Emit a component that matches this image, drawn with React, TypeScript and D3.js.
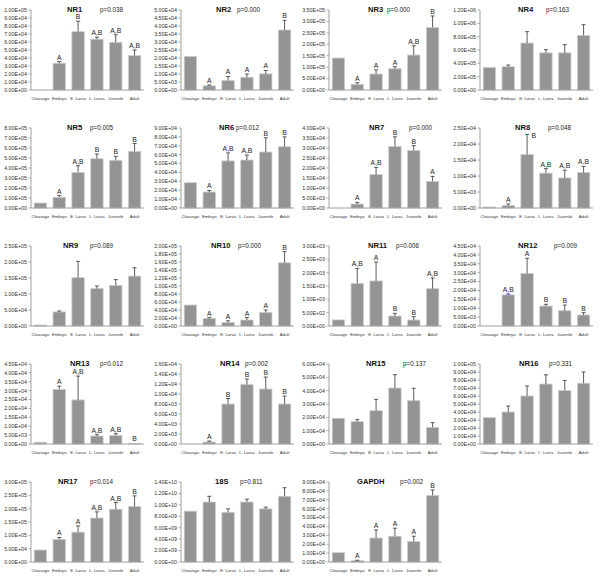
import React from "react";
import * as d3 from "d3";

const categories = ["Cleavage", "Embryo", "E. Larva", "L. Larva", "Juvenile", "Adult"];

const nr1Means = [0, 3.35e4, 7.3e4, 6.35e4, 5.96e4, 4.3e4];
const nr1Err = [null, 3.55e4, 8.6e4, 6.6e4, 6.9e4, 5.0e4];
const nr1Letters = ["", "A", "B", "A,B", "A,B", "A,B"];

const nr2Means = [2.1e4, 2.6e3, 6.0e3, 8.0e3, 1.01e4, 3.75e4];
const nr2Err = [null, 3.1e3, 8.5e3, 1.0e4, 1.22e4, 4.35e4];
const nr2Letters = ["", "A", "A", "A", "A", "B"];

const nr3Means = [1.4e5, 2.5e4, 7.0e4, 9.3e4, 1.53e5, 2.74e5];
const nr3Err = [null, 3.2e4, 8.8e4, 1.02e5, 1.93e5, 3.24e5];
const nr3Letters = ["", "A", "A", "A", "A,B", "B"];

const nr4Means = [3.4e5, 3.5e5, 7.05e5, 5.57e5, 5.57e5, 8.2e5];
const nr4Err = [null, 3.75e5, 8.75e5, 6.05e5, 6.8e5, 9.8e5];
const nr4Letters = ["", "", "", "", "", ""];

const nr5Means = [5e4, 1.07e5, 3.56e5, 4.93e5, 4.77e5, 5.67e5];
const nr5Err = [null, 1.25e5, 4.22e5, 5.4e5, 5.17e5, 6.45e5];
const nr5Letters = ["", "A", "A,B", "B", "B", "B"];

const nr6Means = [2.85e4, 1.8e4, 5.3e4, 5.4e4, 6.3e4, 6.9e4];
const nr6Err = [null, 1.97e4, 6.2e4, 5.95e4, 7.9e4, 8.0e4];
const nr6Letters = ["", "A", "A,B", "A,B", "B", "B"];

const nr7Means = [0, 2.0e3, 1.67e4, 3.08e4, 2.88e4, 1.33e4];
const nr7Err = [null, 2.8e3, 2.03e4, 3.56e4, 3.12e4, 1.58e4];
const nr7Letters = ["", "A", "A,B", "B", "B", "A"];

const nr8Means = [3e2, 8e2, 1.67e4, 1.09e4, 9.4e3, 1.11e4];
const nr8Err = [null, 1.25e3, 2.3e4, 1.23e4, 1.18e4, 1.3e4];
const nr8Letters = ["", "A", "B", "A,B", "A,B", "A,B"];

const nr9Means = [3e3, 4.4e4, 1.51e5, 1.17e5, 1.27e5, 1.56e5];
const nr9Err = [null, 4.7e4, 2.02e5, 1.25e5, 1.45e5, 1.82e5];
const nr9Letters = ["", "", "", "", "", ""];

const nr10Means = [5.25e4, 1.9e4, 9e3, 1.5e4, 3.4e4, 1.58e5];
const nr10Err = [null, 2.1e4, 1.3e4, 2.1e4, 4.0e4, 1.86e5];
const nr10Letters = ["", "A", "A", "A", "A", "B"];

const nr11Means = [2.3e2, 1.6e3, 1.69e3, 3.75e2, 2.25e2, 1.4e3];
const nr11Err = [null, 2.16e3, 2.4e3, 4.75e2, 3.5e2, 1.8e3];
const nr11Letters = ["", "A,B", "A", "B", "B", "A,B"];

const nr12Means = [0, 1.75e4, 2.96e4, 1.12e4, 8.6e3, 6.2e3];
const nr12Err = [null, 1.8e4, 3.81e4, 1.22e4, 1.18e4, 7.5e3];
const nr12Letters = ["", "A,B", "A", "B", "B", "B"];

const nr13Means = [1e3, 3.07e4, 2.48e4, 4.5e3, 4.8e3, 3e2];
const nr13Err = [null, 3.25e4, 3.82e4, 5.2e3, 5.8e3, null];
const nr13Letters = ["", "A", "A,B", "A,B", "A,B", "B"];

const nr14Means = [0, 4e2, 8e3, 1.19e4, 1.1e4, 8e3];
const nr14Err = [null, 6e2, 9.1e3, 1.3e4, 1.34e4, 9.6e3];
const nr14Letters = ["", "A", "B", "B", "B", "B"];

const nr15Means = [1.93e4, 1.68e4, 2.5e4, 4.2e4, 3.25e4, 1.25e4];
const nr15Err = [null, 1.83e4, 3.35e4, 5.2e4, 4.18e4, 1.6e4];
const nr15Letters = ["", "", "", "", "", ""];

const nr16Means = [3.3e4, 4.0e4, 6.0e4, 7.5e4, 6.7e4, 7.6e4];
const nr16Err = [null, 4.75e4, 7.25e4, 8.65e4, 7.95e4, 9.0e4];
const nr16Letters = ["", "", "", "", "", ""];

const nr17Means = [4.5e4, 8.5e4, 1.12e5, 1.65e5, 1.98e5, 2.08e5];
const nr17Err = [null, 9.2e4, 1.35e5, 1.88e5, 2.23e5, 2.48e5];
const nr17Letters = ["", "A", "A", "A,B", "A,B", "B"];

const s18Means = [8.9e9, 1.05e10, 8.7e9, 1.05e10, 9.3e9, 1.15e10];
const s18Err = [null, 1.15e10, 9.3e9, 1.1e10, 9.6e9, 1.3e10];
const s18Letters = ["", "", "", "", "", ""];

const gapdhMeans = [1.05e4, 1.5e3, 2.7e4, 2.9e4, 2.3e4, 7.5e4];
const gapdhErr = [null, 2e3, 3.6e4, 3.8e4, 2.9e4, 8.1e4];
const gapdhLetters = ["", "A", "A", "A", "A", "B"];

const geneNames = ["NR1", "NR2", "NR3", "NR4", "NR5", "NR6", "NR7", "NR8", "NR9", "NR10", "NR11", "NR12", "NR13", "NR14", "NR15", "NR16", "NR17", "18S", "GAPDH"];
const pValues = ["0.038", "0.000", "0.000", "0.163", "0.005", "0.012", "0.000", "0.048", "0.089", "0.000", "0.006", "0.009", "0.012", "0.002", "0.137", "0.331", "0.014", "0.811", "0.002"];
const axisMax = [1e5, 5e4, 3.5e5, 1.2e6, 8e5, 9e4, 4e4, 2.5e4, 2.5e5, 2e5, 3e3, 4.5e4, 4.5e4, 1.6e4, 6e4, 1e5, 3e5, 1.4e10, 9e4];
const axisStep = [1e4, 5e3, 5e4, 2e5, 1e5, 1e4, 5e3, 5e3, 5e4, 2e4, 5e2, 5e3, 5e3, 2e3, 1e4, 1e4, 5e4, 2e9, 1e4];
const allMeans = [nr1Means, nr2Means, nr3Means, nr4Means, nr5Means, nr6Means, nr7Means, nr8Means, nr9Means, nr10Means, nr11Means, nr12Means, nr13Means, nr14Means, nr15Means, nr16Means, nr17Means, s18Means, gapdhMeans];
const allErr = [nr1Err, nr2Err, nr3Err, nr4Err, nr5Err, nr6Err, nr7Err, nr8Err, nr9Err, nr10Err, nr11Err, nr12Err, nr13Err, nr14Err, nr15Err, nr16Err, nr17Err, s18Err, gapdhErr];
const allLetters = [nr1Letters, nr2Letters, nr3Letters, nr4Letters, nr5Letters, nr6Letters, nr7Letters, nr8Letters, nr9Letters, nr10Letters, nr11Letters, nr12Letters, nr13Letters, nr14Letters, nr15Letters, nr16Letters, nr17Letters, s18Letters, gapdhLetters];

// layout (not data)
const colX = [31, 181, 329, 480];
const rowY = [10, 128, 246, 364, 482];
const plotW = 113;
const plotH = 80;
const titleDx = [36, 35, 39, 38, 36, 38, 40, 35, 32, 30, 39, 38, 39, 39, 37, 39, 27, 34, 28];
const pDx = [69, 56, 58, 66, 59, 55, 80, 68, 59, 57, 67, 74, 69, 64, 74, 69, 59, 59, 71];
// letter label placement overrides: key "panel-bar" -> [dx, dy]
const letterShift: Record<string, [number, number]> = { "7-2": [4.5, 6] };

const FONT = "'Liberation Sans', Arial, sans-serif";

function fmtE(v: number) {
  const [m, e] = v.toExponential(2).split("e");
  const sign = e[0] === "-" ? "-" : "+";
  const digits = e.replace(/[+-]/, "").padStart(2, "0");
  return m.toUpperCase() + "E" + sign + digits;
}

function Panel({ idx }: { idx: number }) {
  const col = idx % 4;
  const row = Math.floor(idx / 4);
  const x0 = colX[col];
  const y0 = rowY[row];
  const x = d3.scaleBand<string>().domain(categories).range([0, plotW]).paddingInner(0.34).paddingOuter(0.17);
  const y = d3.scaleLinear().domain([0, axisMax[idx]]).range([plotH, 0]);
  const ticks = d3.range(0, axisMax[idx] + axisStep[idx] / 2, axisStep[idx]);
  const means = allMeans[idx];
  const errs = allErr[idx];
  const letters = allLetters[idx];
  const bw = x.bandwidth();
  return (
    <g transform={`translate(${x0},${y0})`}>
      {ticks.map((t, i) => (
        <g key={i} transform={`translate(0,${y(t)})`}>
          <line x1={-2.5} x2={0} stroke="#888" strokeWidth={0.7} />
          <text x={-4} dy="0.35em" textAnchor="end" fontSize={5.3} fill="#333" fontFamily={FONT}>{fmtE(t)}</text>
        </g>
      ))}
      {means.map((m, i) => {
        const cx = (x(categories[i]) || 0);
        const h = plotH - y(m);
        return m > 0 ? (
          <rect key={"b" + i} x={cx} y={y(m)} width={bw} height={h} fill="#949494" stroke="#cfcfcf" strokeWidth={0.8} />
        ) : null;
      })}
      {errs.map((e, i) => {
        if (e == null) return null;
        const cx = (x(categories[i]) || 0) + bw / 2;
        return (
          <g key={"e" + i} stroke="#333" strokeWidth={0.8}>
            <line x1={cx} x2={cx} y1={y(means[i])} y2={y(e)} />
            <line x1={cx - 2} x2={cx + 2} y1={y(e)} y2={y(e)} />
          </g>
        );
      })}
      {letters.map((l, i) => {
        if (!l) return null;
        const cx = (x(categories[i]) || 0) + bw / 2;
        const top = errs[i] != null ? y(errs[i] as number) : y(means[i]);
        const sh = letterShift[idx + "-" + i] || [0, 0];
        return (
          <text key={"l" + i} x={cx + sh[0]} y={top - 2 + sh[1]} textAnchor={sh[0] ? "start" : "middle"} fontSize={6.8} fill="#222" fontFamily={FONT}>{l}</text>
        );
      })}
      <line x1={0} x2={0} y1={0} y2={plotH} stroke="#888" strokeWidth={0.8} />
      <line x1={0} x2={plotW} y1={plotH} y2={plotH} stroke="#888" strokeWidth={0.8} />
      {categories.map((c, i) => (
        <text key={"c" + i} x={(x(c) || 0) + bw / 2} y={plotH + 9.5} textAnchor="middle" fontSize={4.2} fill="#333" fontFamily={FONT}>{c}</text>
      ))}
      <text x={titleDx[idx]} y={2} fontSize={7.6} fontWeight="bold" fill="#111" fontFamily={FONT}>{geneNames[idx]}</text>
      <text x={pDx[idx]} y={1.5} fontSize={6.3} fill="#222" fontFamily={FONT}>{"p=" + pValues[idx]}</text>
    </g>
  );
}

export default function App() {
  return (
    <svg width={600} height={578} style={{ position: "absolute", left: 0, top: 0, background: "#fff" }}>
      <rect width={600} height={578} fill="#fff" />
      {geneNames.map((_, i) => (
        <Panel key={i} idx={i} />
      ))}
    </svg>
  );
}
